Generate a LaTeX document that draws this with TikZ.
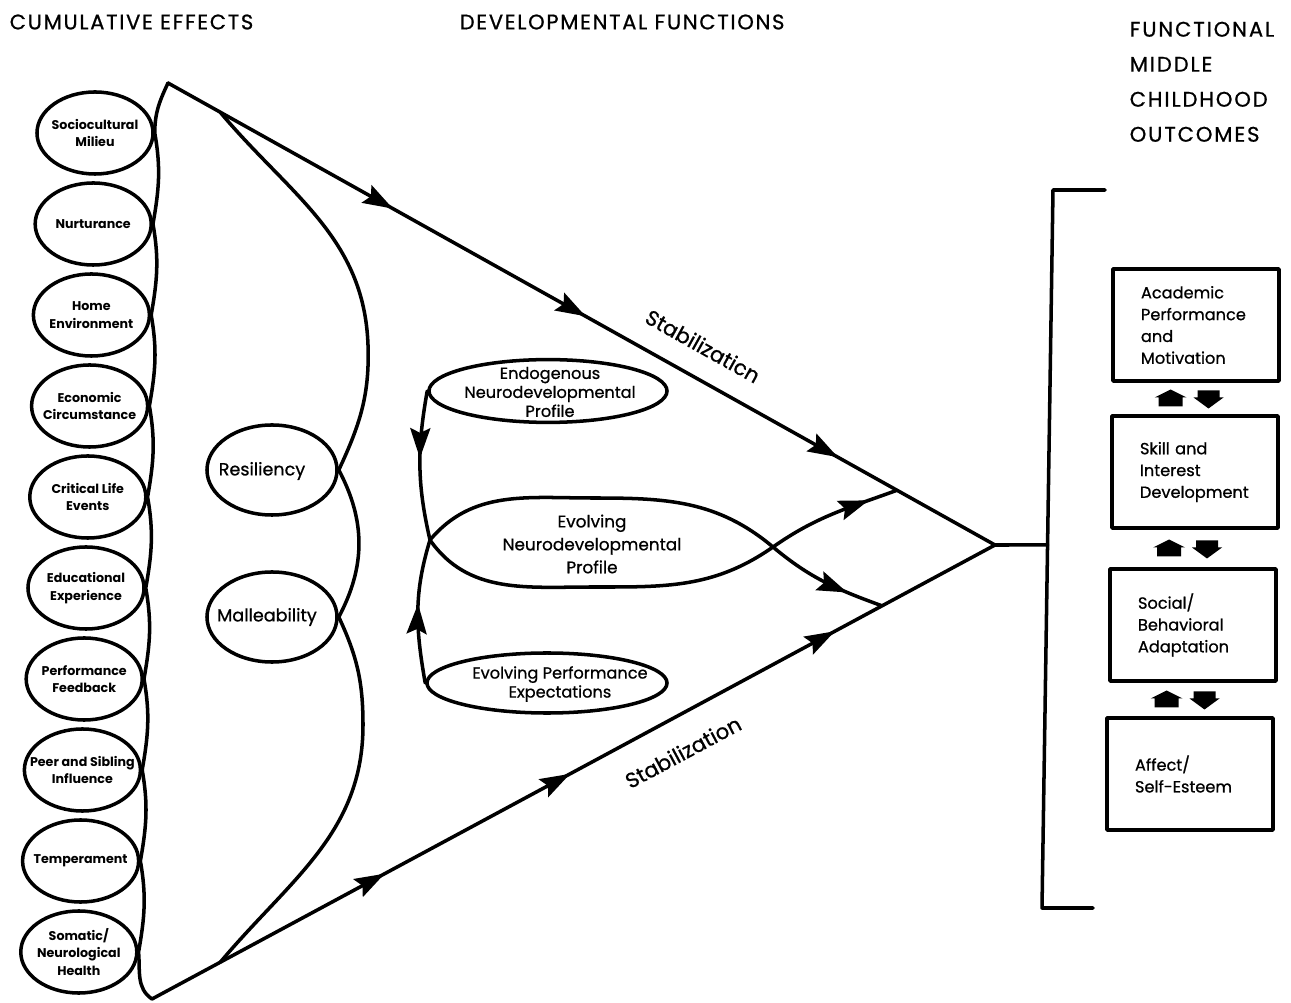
\documentclass[tikz,border=0pt]{standalone}
\usepackage{fontspec}
\setmainfont{Poppins}
\newfontfamily\medfont[FakeBold=0.8]{Poppins}
\usetikzlibrary{arrows.meta,calc,decorations.markings,shapes.geometric}

\begin{document}
\begin{tikzpicture}[x=0.025cm, y=-0.025cm, line width=2.5pt, line join=round, line cap=round,
	>={Stealth[length=7.5mm, width=5mm, inset=1.2mm]},
	arrowat/.style={postaction={decorate, decoration={markings, mark=at position #1 with {\arrow{>}}}}},
	cause/.style={ellipse, draw, minimum width=2.9cm, minimum height=2.05cm},
	causetxt/.style={align=center, inner sep=0pt, font=\fontsize{9}{12.5}\selectfont\bfseries},
	trait/.style={ellipse, draw, minimum width=3.25cm, minimum height=2.25cm},
	traittxt/.style={inner sep=0pt, font=\medfont\fontsize{12.5}{14}\selectfont},
	profile/.style={ellipse, draw, minimum width=5.95cm, minimum height=1.57cm},
	midtxt/.style={align=center, inner sep=0pt, font=\medfont\fontsize{11.5}{13.5}\selectfont},
	outcome/.style={draw, minimum width=4.15cm, minimum height=2.8cm, text width=2.75cm, inner xsep=0.7cm, align=left, font=\medfont\fontsize{11.5}{15.5}\selectfont},
	title/.style={inner sep=0pt, font=\medfont\fontsize{15}{24.9}\selectfont\addfontfeatures{LetterSpace=8}},
	stab/.style={inner sep=0pt, font=\medfont\fontsize{15}{16}\selectfont}]
	\useasboundingbox (0,0) rectangle (1291,1003);

	% [Titles]
	\node[title, anchor=west] (tcum) at (8,22) {CUMULATIVE EFFECTS};
	\node[title, anchor=west] (tdev) at (458,22) {DEVELOPMENTAL FUNCTIONS};
	\node[title, anchor=north west, align=left, font=\medfont\fontsize{15}{24.9}\selectfont\addfontfeatures{LetterSpace=9}] (tout) at (1128,20) {FUNCTIONAL\\MIDDLE\\CHILDHOOD\\OUTCOMES};

	% [Cumulative effects]
	\foreach \i/\txt in {1/{Sociocultural\\Milieu}, 2/Nurturance, 3/{Home\\Environment}, 4/{Economic\\Circumstance}, 5/{Critical Life\\Events}, 6/{Educational\\Experience}, 7/{Performance\\Feedback}, 8/{Peer and Sibling\\Influence}, 9/Temperament, 10/{Somatic/\\Neurological\\Health}}
	{
		\node[cause] (c\i) at ({95-1.8*(\i-1)},{133+91*(\i-1)}) {};
		\node[causetxt] (ct\i) at (c\i) {\txt};
	}

	\coordinate (apex) at (168,83);
	\coordinate (botapex) at (152,999);
	\coordinate (vertex) at (995,545);
	\coordinate (tb) at ($(apex)!0.063!(vertex)$);
	\coordinate (bb) at ($(botapex)!0.081!(vertex)$);

	\draw (apex) to[out=-115,in=90] (c1.east)
		\foreach \j in {2,...,10} { to[out=-80,in=80] (c\j.east) }
		to[out=-85,in=146] (botapex);

	% [Main stabilization lines]
	\draw[arrowat/.list={0.272,0.505,0.81}] (apex) -- (vertex);
	\draw[arrowat/.list={0.276,0.496,0.81}] (botapex) -- (vertex);
	\node[stab, rotate=-29.2] (stabtop) at (703,346) {Stabilizaticn};
	\node[stab, rotate=28.2] (stabbot) at (683,752) {Stabilization};

	% [Resiliency and malleability]
	\node[trait] (res) at (272,470) {};
	\node[traittxt] (rest) at (262,471) {Resiliency};
	\node[trait] (mal) at (272,617) {};
	\node[traittxt] (malt) at (267,617) {Malleability};
	\draw (tb) to[out=-50,in=92] (368,345) to[out=-88,in=65] (res.east)
		to[out=-62,in=62] (mal.east) to[out=-65,in=90] (363,725) to[out=-90,in=50] (bb);

	% [Developmental functions]
	\node[profile] (endo) at (548,391) {};
	\node[midtxt] (endot) at (550,392) {Endogenous\\Neurodevelopmental\\Profile};
	\node[profile, minimum width=6cm, minimum height=1.5cm] (expt) at (547,683) {};
	\node[midtxt] (exptt) at (560,684) {Evolving Performance\\Expectations};
	\node[midtxt, font=\medfont\fontsize{12}{16.3}\selectfont] (evo) at (592,544) {Evolving\\Neurodevelopmental\\Profile};

	\coordinate (evl) at (430,540);
	\coordinate (cross) at (773,547);
	\coordinate (upend) at ($(apex)!0.8815!(vertex)$);
	\coordinate (lowend) at ($(botapex)!0.866!(vertex)$);
	\draw[arrowat=-0.93cm] (evl) to[out=50,in=180] (593,498) to[out=0,in=140] (cross) to[out=-40,in=160] (lowend);
	\draw[arrowat=-0.75cm] (evl) to[out=-55,in=180] (593,587) to[out=0,in=-145] (cross) to[out=35,in=-160] (upend);
	\draw[arrowat=0.45] (endo.west) to[out=-100,in=103] (evl);
	\draw[arrowat=0.55] (expt.west) to[out=100,in=-107] (evl);

	% [Outcomes]
	\coordinate (brtop) at (1053,190);
	\coordinate (brbot) at (1042,908);
	\coordinate (brtopend) at (1105,190);
	\coordinate (brbotend) at (1093,908);
	\draw (brtopend) -- (brtop) -- (brbot) -- (brbotend);
	\draw (vertex) -- ($(brtop)!0.4944!(brbot)$);

	\node[outcome] (acad) at (1196,325) {Academic\\Performance\\and\\Motivation};
	\node[outcome] (skill) at (1195,472) {Skill and\\Interest\\Development};
	\node[outcome] (social) at (1193,625) {Social/\\Behavioral\\Adaptation};
	\node[outcome] (affect) at (1190,774) {Affect/\\Self-Esteem};

	\foreach \a/\b in {acad/skill, skill/social, social/affect}
	{
		\coordinate (m) at ($(\a.south)!0.5!(\b.north)$);
		\fill ($(m)+(-25,0)$) +(-16,-1) -- +(0,-9) -- +(16,-1) -- +(12,-1) -- +(12,8) -- +(-12,8) -- +(-12,-1) -- cycle;
		\fill ($(m)+(13,0)$) +(-11,-8) -- +(11,-8) -- +(11,-1) -- +(15,-1) -- +(0,10) -- +(-15,-1) -- +(-11,-1) -- cycle;
	}
\end{tikzpicture}
\end{document}
